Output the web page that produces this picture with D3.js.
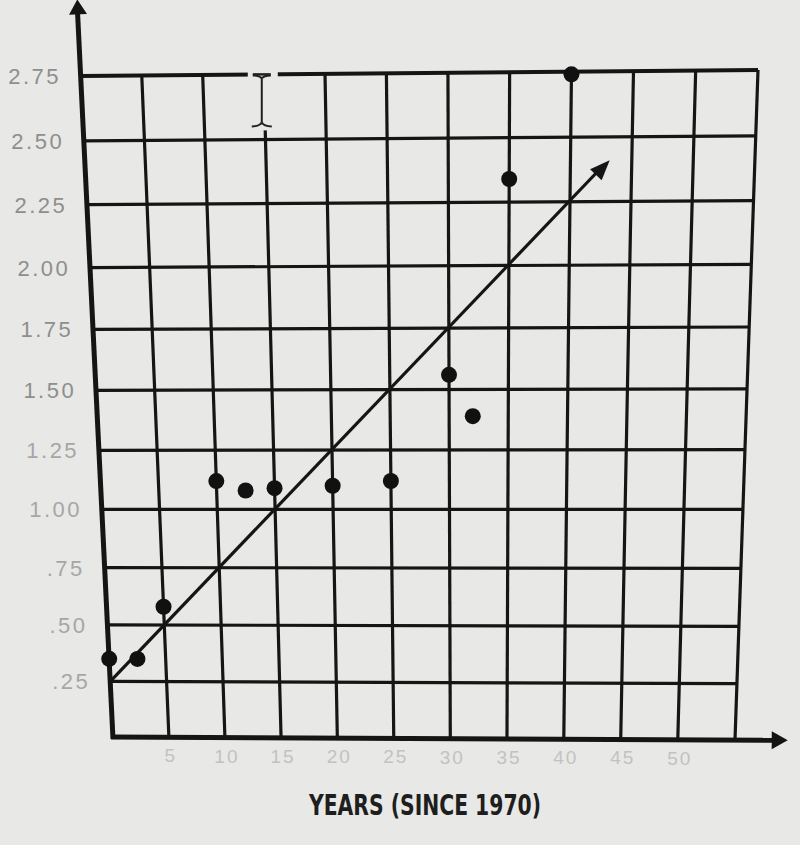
<!DOCTYPE html>
<html>
<head>
<meta charset="utf-8">
<script src="https://cdn.jsdelivr.net/npm/d3@7"></script>
<style>
  html, body { margin: 0; padding: 0; background: #e8e8e6; }
  svg { display: block; }
</style>
</head>
<body>
<script>
// ---- data ----
const xTicks = [5, 10, 15, 20, 25, 30, 35, 40, 45, 50];
const xTickLabels = ["5", "10", "15", "20", "25", "30", "35", "40", "45", "50"];
const yTicks = [0.25, 0.5, 0.75, 1.0, 1.25, 1.5, 1.75, 2.0, 2.25, 2.5, 2.75];
const yTickLabels = [".25", ".50", ".75", "1.00", "1.25", "1.50", "1.75", "2.00", "2.25", "2.50", "2.75"];
const pointYears = [0, 2.5, 5, 10, 12.5, 15, 20, 25, 30, 32, 35, 40];
const pointValues = [0.35, 0.35, 0.58, 1.12, 1.08, 1.09, 1.1, 1.12, 1.56, 1.39, 2.34, 2.74];
const trendYears = [0, 43.2];
const trendValues = [0.25, 2.41];
const xTitle = "YEARS (SINCE 1970)";

const W = 800, H = 845;
const svg = d3.select("body").append("svg").attr("width", W).attr("height", H);
svg.append("rect").attr("width", W).attr("height", H).attr("fill", "#e8e8e6");

// scales to unit square
const xs = d3.scaleLinear().domain([0, 55]).range([0, 1]);
const ys = d3.scaleLinear().domain([0, 2.75]).range([1, 0]);

// perspective (photo) mapping of unit square onto the photographed sheet
const TL = [81, 76], TR = [758, 70], BR = [735, 740], BL = [113, 737];
const hom = (function () {
  const [x0, y0] = TL, [x1, y1] = TR, [x2, y2] = BR, [x3, y3] = BL;
  const dx1 = x1 - x2, dx2 = x3 - x2, dx3 = x0 - x1 + x2 - x3;
  const dy1 = y1 - y2, dy2 = y3 - y2, dy3 = y0 - y1 + y2 - y3;
  const den = dx1 * dy2 - dy1 * dx2;
  const g = (dx3 * dy2 - dy3 * dx2) / den;
  const h = (dx1 * dy3 - dy1 * dx3) / den;
  const a = x1 - x0 + g * x1, b = x3 - x0 + h * x3, c = x0;
  const d = y1 - y0 + g * y1, e = y3 - y0 + h * y3, f = y0;
  return (u, v) => {
    const w = g * u + h * v + 1;
    return [(a * u + b * v + c) / w, (d * u + e * v + f) / w];
  };
})();
const P = (xv, yv) => hom(xs(xv), ys(yv));

const ink = "#151515";
const gridG = svg.append("g");

// vertical grid lines
[...xTicks, 55].forEach(t => {
  const p0 = P(t, 2.75), p1 = P(t, 0);
  gridG.append("line").attr("x1", p0[0]).attr("y1", p0[1]).attr("x2", p1[0]).attr("y2", p1[1])
    .attr("stroke", ink).attr("stroke-width", 3.2);
});
// horizontal grid lines
yTicks.forEach(t => {
  const p0 = P(0, t), p1 = P(55, t);
  gridG.append("line").attr("x1", p0[0]).attr("y1", p0[1]).attr("x2", p1[0]).attr("y2", p1[1])
    .attr("stroke", ink).attr("stroke-width", t === 2.75 ? 4 : 3.2);
});

// text-cursor artifact (I-beam) over the top of the 15 line
{
  const p = P(15, 2.75);
  svg.append("rect").attr("x", p[0] - 16).attr("y", p[1] - 6).attr("width", 30).attr("height", 62)
    .attr("fill", "#e8e8e6");
  const cx = p[0] - 2, top = p[1] + 1, bot = p[1] + 52;
  svg.append("path")
    .attr("d", `M${cx - 9},${top} Q${cx - 2},${top} ${cx},${top + 3} Q${cx + 2},${top} ${cx + 9},${top}
                M${cx},${top + 2} L${cx},${bot - 2}
                M${cx - 10},${bot} Q${cx - 2},${bot} ${cx},${bot - 4} Q${cx + 2},${bot} ${cx + 10},${bot}`)
    .attr("fill", "none").attr("stroke", "#222").attr("stroke-width", 2);
  svg.append("path")
    .attr("d", `M${cx - 9},${top - 1} L${cx + 9},${top - 1}`)
    .attr("stroke", "#222").attr("stroke-width", 2.5);
}

// axes (thicker, with arrows)
function arrowHead(tip, from, len, half) {
  const dx = tip[0] - from[0], dy = tip[1] - from[1];
  const L = Math.hypot(dx, dy), ux = dx / L, uy = dy / L;
  const bx = tip[0] - ux * len, by = tip[1] - uy * len;
  return `M${tip[0]},${tip[1]} L${bx - uy * half},${by + ux * half} L${bx + uy * half},${by - ux * half} Z`;
}
{
  const a0 = P(0, 0), a1 = P(0, 3.04);
  svg.append("line").attr("x1", a0[0]).attr("y1", a0[1] + 2).attr("x2", a1[0]).attr("y2", a1[1] + 8)
    .attr("stroke", ink).attr("stroke-width", 5);
  svg.append("path").attr("d", arrowHead(a1, a0, 15, 9)).attr("fill", ink);
  const b0 = P(0, 0), b1 = P(59.6, 0);
  svg.append("line").attr("x1", b0[0] - 2).attr("y1", b0[1]).attr("x2", b1[0] - 8).attr("y2", b1[1])
    .attr("stroke", ink).attr("stroke-width", 5);
  svg.append("path").attr("d", arrowHead(b1, b0, 16, 9)).attr("fill", ink);
}

// trend line with arrow
{
  const t0 = P(trendYears[0], trendValues[0]), t1 = P(trendYears[1], trendValues[1]);
  svg.append("line").attr("x1", t0[0]).attr("y1", t0[1]).attr("x2", t1[0] - 8).attr("y2", t1[1] + 7)
    .attr("stroke", ink).attr("stroke-width", 3.2);
  svg.append("path").attr("d", arrowHead(t1, t0, 20, 8)).attr("fill", ink);
}

// points
svg.append("g").selectAll("circle").data(pointYears.map((d, i) => ({ x: d, y: pointValues[i] })))
  .join("circle")
  .attr("cx", d => P(d.x, d.y)[0]).attr("cy", d => P(d.x, d.y)[1])
  .attr("r", 8).attr("fill", "#111");

// y tick labels
svg.append("g").selectAll("text").data(yTicks).join("text")
  .attr("x", d => P(0, d)[0] - 20).attr("y", d => P(0, d)[1] + 8)
  .attr("text-anchor", "end")
  .attr("font-family", "Liberation Sans, Arial, sans-serif")
  .attr("font-size", 22).attr("letter-spacing", 2.5)
  .attr("fill", d => d >= 1.5 ? "#8e8e8e" : "#a6a6a6")
  .text((d, i) => yTickLabels[i]);

// x tick labels
svg.append("g").selectAll("text").data(xTicks).join("text")
  .attr("x", d => P(d, 0)[0] + 2).attr("y", d => P(d, 0)[1] + 25)
  .attr("text-anchor", "middle")
  .attr("font-family", "Liberation Sans, Arial, sans-serif")
  .attr("font-size", 19).attr("letter-spacing", 2)
  .attr("fill", "#c2c2c2")
  .text((d, i) => xTickLabels[i]);

// x axis title
svg.append("text")
  .attr("x", 425).attr("y", 815)
  .attr("text-anchor", "middle")
  .attr("font-family", "Liberation Sans Narrow, DejaVu Sans Condensed, Arial Narrow, sans-serif")
  .attr("font-weight", "bold").attr("font-size", 28)
  .attr("textLength", 232).attr("lengthAdjust", "spacingAndGlyphs")
  .attr("fill", "#1e1e1e")
  .text(xTitle);
</script>
</body>
</html>
